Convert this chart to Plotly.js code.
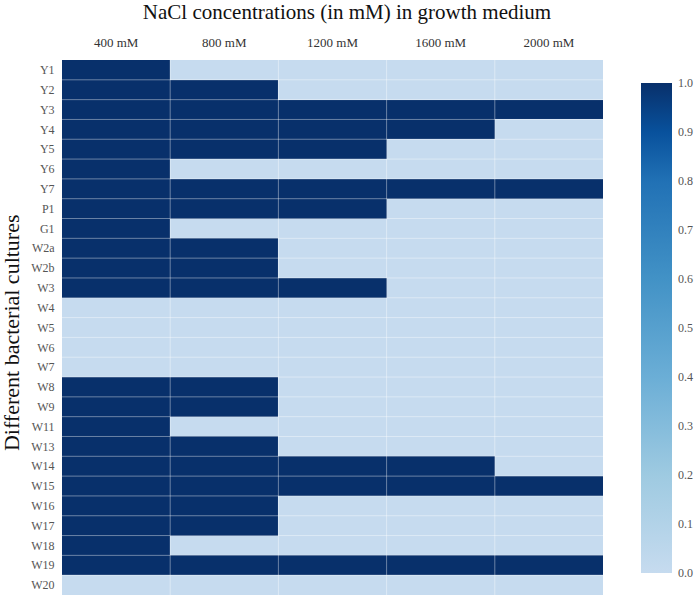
<!DOCTYPE html>
<html>
<head>
<meta charset="utf-8">
<script src="https://cdn.plot.ly/plotly-3.0.1.min.js"></script>
<style>html,body{margin:0;padding:0;background:#fff;}</style>
</head>
<body>
<div id="chart" style="width:694px;height:599px;"></div>
<script>
const concentrations = ["400 mM", "800 mM", "1200 mM", "1600 mM", "2000 mM"];
const cultures = ["Y1","Y2","Y3","Y4","Y5","Y6","Y7","P1","G1","W2a","W2b","W3","W4","W5","W6","W7","W8","W9","W11","W13","W14","W15","W16","W17","W18","W19","W20"];
const growth = [
  [1,0,0,0,0], // Y1
  [1,1,0,0,0], // Y2
  [1,1,1,1,1], // Y3
  [1,1,1,1,0], // Y4
  [1,1,1,0,0], // Y5
  [1,0,0,0,0], // Y6
  [1,1,1,1,1], // Y7
  [1,1,1,0,0], // P1
  [1,0,0,0,0], // G1
  [1,1,0,0,0], // W2a
  [1,1,0,0,0], // W2b
  [1,1,1,0,0], // W3
  [0,0,0,0,0], // W4
  [0,0,0,0,0], // W5
  [0,0,0,0,0], // W6
  [0,0,0,0,0], // W7
  [1,1,0,0,0], // W8
  [1,1,0,0,0], // W9
  [1,0,0,0,0], // W11
  [1,1,0,0,0], // W13
  [1,1,1,1,0], // W14
  [1,1,1,1,1], // W15
  [1,1,0,0,0], // W16
  [1,1,0,0,0], // W17
  [1,0,0,0,0], // W18
  [1,1,1,1,1], // W19
  [0,0,0,0,0]  // W20
];
const colorbarTicks = [0,0.1,0.2,0.3,0.4,0.5,0.6,0.7,0.8,0.9,1.0];

const blues = [
  [0.0, "#c6dbef"],
  [0.2, "#9ecae1"],
  [0.4, "#6baed6"],
  [0.6, "#4292c6"],
  [0.8, "#2171b5"],
  [0.9, "#08519c"],
  [1.0, "#08306b"]
];

const trace = {
  type: "heatmap",
  x: concentrations,
  y: cultures,
  z: growth,
  zmin: 0, zmax: 1,
  colorscale: blues,
  colorbar: {
    x: 1.07, xanchor: "left", xpad: 0,
    y: 0.499, yanchor: "middle", ypad: 0,
    len: 0.916, lenmode: "fraction",
    thickness: 31,
    outlinewidth: 0,
    tickvals: colorbarTicks,
    ticktext: colorbarTicks.map(v => "\u00a0" + v.toFixed(1)),
    ticks: "",
    tickfont: {family: "Liberation Serif, serif", size: 12, color: "#555"}
  }
};

// cell separator lines (semi-transparent white) at category boundaries
const gridStyle = {color: "rgba(255,255,255,0.4)", width: 1};
const shapes = [];
for (let i = 1; i < cultures.length; i++) {
  shapes.push({type: "line", xref: "paper", yref: "y", x0: 0, x1: 1, y0: i - 0.5, y1: i - 0.5, line: gridStyle, layer: "above"});
}
for (let j = 1; j < concentrations.length; j++) {
  shapes.push({type: "line", xref: "x", yref: "paper", x0: j - 0.5, x1: j - 0.5, y0: 0, y1: 1, line: gridStyle, layer: "above"});
}

const layout = {
  width: 694, height: 599,
  margin: {l: 62, r: 91, t: 60, b: 4},
  paper_bgcolor: "#fff",
  plot_bgcolor: "#fff",
  font: {family: "Liberation Serif, serif", color: "#555"},
  title: {
    text: "NaCl concentrations (in mM) in growth medium",
    font: {family: "Liberation Serif, serif", size: 21, color: "#111"},
    x: 0.5, xanchor: "center", y: 0.98, yanchor: "middle", yref: "container"
  },
  shapes: shapes,
  annotations: [{
    text: "Different bacterial cultures",
    xref: "paper", yref: "paper", x: -0.092, y: 0.49,
    xanchor: "center", yanchor: "middle", textangle: -90, showarrow: false,
    font: {family: "Liberation Serif, serif", size: 22, color: "#111"}
  }],
  xaxis: {
    side: "top",
    type: "category",
    range: [-0.5, concentrations.length - 0.5],
    showgrid: false, zeroline: false,
    ticks: "outside", ticklen: 7, tickcolor: "rgba(0,0,0,0)",
    tickfont: {size: 13, color: "#333"},
    automargin: false
  },
  yaxis: {
    type: "category",
    range: [cultures.length - 0.5, -0.5],
    showgrid: false, zeroline: false,
    ticks: "outside", ticklen: 4, tickcolor: "rgba(0,0,0,0)",
    tickfont: {size: 12, color: "#555"},
    automargin: false
  }
};

Plotly.newPlot("chart", [trace], layout, {displayModeBar: false, staticPlot: true});
</script>
</body>
</html>
